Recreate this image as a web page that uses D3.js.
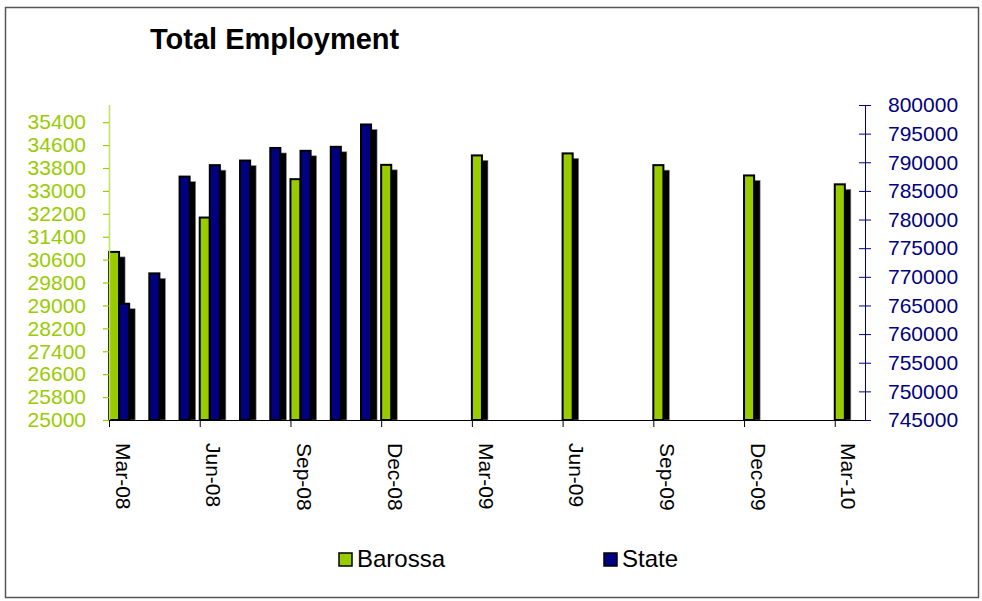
<!DOCTYPE html>
<html>
<head>
<meta charset="utf-8">
<script src="https://cdn.jsdelivr.net/npm/d3@7"></script>
<style>
  html, body { margin: 0; padding: 0; background: #fff; }
  svg { display: block; font-family: "Liberation Sans", Arial, sans-serif; }
</style>
</head>
<body>
<svg id="chart" width="982" height="601"></svg>
<script>
// Monthly categories, Mar-08 to Mar-10
const categories = ["Mar-08","Apr-08","May-08","Jun-08","Jul-08","Aug-08","Sep-08","Oct-08","Nov-08",
  "Dec-08","Jan-09","Feb-09","Mar-09","Apr-09","May-09","Jun-09","Jul-09","Aug-09","Sep-09",
  "Oct-09","Nov-09","Dec-09","Jan-10","Feb-10","Mar-10"];

// Barossa employment (quarterly, left axis)
const barossa = [30870, null, null, 32070, null, null, 33410, null, null,
  33910, null, null, 34240, null, null, 34310, null, null, 33900,
  null, null, 33540, null, null, 33230];

// State employment (monthly, right axis)
const state = [765300, 770600, 787500, 789500, 790300, 792500, 792000, 792700, 796600,
  null, null, null, null, null, null, null, null, null, null,
  null, null, null, null, null, null];

const leftTicks = [25000, 25800, 26600, 27400, 28200, 29000, 29800, 30600, 31400, 32200, 33000, 33800, 34600, 35400];
const rightTicks = [745000, 750000, 755000, 760000, 765000, 770000, 775000, 780000, 785000, 790000, 795000, 800000];
const shownLabels = ["Mar-08","Jun-08","Sep-08","Dec-08","Mar-09","Jun-09","Sep-09","Dec-09","Mar-10"];

const seriesNames = ["Barossa", "State"];
const colors = { Barossa: "#99CC00", State: "#000080" };

const svg = d3.select("#chart");
const plot = { left: 109, right: 865, top: 105, bottom: 420 };

// Outer chart frame
svg.append("rect")
  .attr("x", 5.5).attr("y", 7.5).attr("width", 973).attr("height", 590)
  .attr("fill", "none").attr("stroke", "#555").attr("stroke-width", 1.5);

// Title
svg.append("text")
  .attr("x", 150).attr("y", 49)
  .attr("font-size", 29).attr("font-weight", "bold").attr("fill", "#000")
  .text("Total Employment");

const x = d3.scaleBand().domain(categories).range([plot.left, plot.right]).paddingInner(0).paddingOuter(0);
// three slots per month: Barossa, State, and an empty slot
const xs = d3.scaleBand().domain(["Barossa", "State", "gap"]).range([0, x.bandwidth()]);
const yL = d3.scaleLinear().domain([25000, 36000]).range([plot.bottom, plot.top]);
const yR = d3.scaleLinear().domain([745000, 800000]).range([plot.bottom, plot.top]);

const rows = categories.map((c, i) => ({ cat: c, Barossa: barossa[i], State: state[i] }));
const scaleFor = { Barossa: yL, State: yR };

const shadowDx = 6, shadowDy = 5;
const barsG = svg.append("g");

rows.forEach(r => {
  seriesNames.forEach(s => {
    const v = r[s];
    if (v == null) return;
    const bx = x(r.cat) + xs(s);
    const bw = xs.bandwidth();
    const top = scaleFor[s](v);
    const h = plot.bottom - top;
    // drop shadow
    barsG.append("rect")
      .attr("x", bx + shadowDx).attr("y", top + shadowDy)
      .attr("width", bw).attr("height", Math.max(0, h - shadowDy))
      .attr("fill", "#000")
      .attr("stroke", "#888").attr("stroke-width", 0.6);
    // bar
    barsG.append("rect")
      .attr("x", bx).attr("y", top)
      .attr("width", bw).attr("height", h)
      .attr("fill", colors[s])
      .attr("stroke", "#000").attr("stroke-width", 2);
  });
});

// Left axis (Barossa)
const leftAxis = d3.axisLeft(yL).tickValues(leftTicks).tickSize(6).tickPadding(17).tickFormat(d3.format("d"));
const gL = svg.append("g").attr("transform", `translate(${plot.left},0)`).call(leftAxis);
gL.select(".domain").attr("stroke", "#c2df62").attr("stroke-width", 1.5)
  .attr("d", `M0.5,${plot.top}V${plot.bottom}`);
gL.selectAll(".tick line").attr("stroke", "#99CC00").attr("stroke-width", 1.2);
gL.selectAll(".tick text").attr("fill", "#99CC00").attr("font-size", 21)
  .attr("font-family", "Liberation Sans, Arial, sans-serif");

// Right axis (State)
const rightAxis = d3.axisRight(yR).tickValues(rightTicks).tickSize(6).tickPadding(17).tickFormat(d3.format("d"));
const gR = svg.append("g").attr("transform", `translate(${plot.right},0)`).call(rightAxis);
gR.select(".domain").attr("stroke", "#000080").attr("stroke-width", 1)
  .attr("d", `M0.5,${plot.top}V${plot.bottom}`);
gR.selectAll(".tick line").attr("stroke", "#000080").attr("x1", -6).attr("x2", 6);
gR.selectAll(".tick text").attr("fill", "#000080").attr("font-size", 21)
  .attr("font-family", "Liberation Sans, Arial, sans-serif");

// Category axis: ticks every third month, rotated labels
const gX = svg.append("g");
gX.append("line")
  .attr("x1", plot.left).attr("x2", plot.right)
  .attr("y1", plot.bottom + 0.5).attr("y2", plot.bottom + 0.5)
  .attr("stroke", "#000").attr("stroke-width", 1.2);
categories.forEach((c, i) => {
  if (i % 3 === 0) {
    gX.append("line")
      .attr("x1", x(c) + 0.5).attr("x2", x(c) + 0.5)
      .attr("y1", plot.bottom).attr("y2", plot.bottom + 7)
      .attr("stroke", "#000").attr("stroke-width", 1);
  }
});
shownLabels.forEach(c => {
  const cx = x(c) + x.bandwidth() / 2 - 1;
  gX.append("text")
    .attr("transform", `translate(${cx},443) rotate(90)`)
    .attr("text-anchor", "start")
    .attr("dominant-baseline", "central")
    .attr("font-size", 21).attr("fill", "#000")
    .text(c);
});

// Legend
const legend = svg.append("g");
const legendItems = [
  { name: "Barossa", sx: 339, tx: 357 },
  { name: "State", sx: 604, tx: 622 }
];
legendItems.forEach(it => {
  legend.append("rect")
    .attr("x", it.sx).attr("y", 553).attr("width", 13).attr("height", 13)
    .attr("fill", colors[it.name]).attr("stroke", "#000").attr("stroke-width", 1.5);
  legend.append("text")
    .attr("x", it.tx).attr("y", 567)
    .attr("font-size", 24).attr("fill", "#000")
    .text(it.name);
});
</script>
</body>
</html>
